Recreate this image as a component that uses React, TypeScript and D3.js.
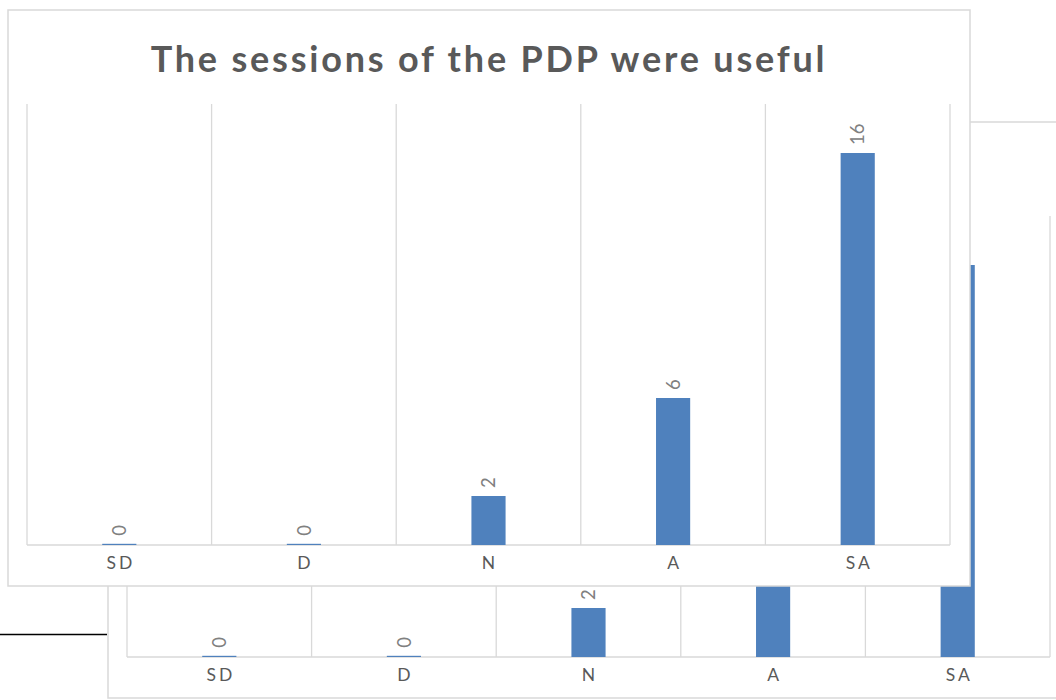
import React from "react";
import * as d3 from "d3";

const categories = ["SD", "D", "N", "A", "SA"];
const values = [0, 0, 2, 6, 16];
const title = "The sessions of the PDP were useful";
const yMax = 18;

const W = 962;
const H = 576;
const BAR = "#4f81bd";
const GRID = "#d9d9d9";
const FONT = "Lato, 'Open Sans', sans-serif";

function Chart({ dx, dy }: { dx: number; dy: number }) {
  const plotL = 19, plotR = 942, plotT = 94, plotB = 535;
  const x = d3.scaleBand<string>().domain(categories).range([plotL, plotR]).padding(0);
  const y = d3.scaleLinear().domain([0, yMax]).range([plotB, plotT]);
  const bw = x.bandwidth();
  const barW = bw * 0.185;
  const bounds = d3.range(categories.length + 1).map((i) => plotL + i * bw);
  return (
    <g transform={`translate(${dx},${dy})`}>
      <rect x={0} y={0} width={W} height={H} fill="#fff" stroke={GRID} strokeWidth={1.5} />
      <text
        x={W / 2}
        y={62}
        textAnchor="middle"
        fontFamily={FONT}
        fontWeight={700}
        fontSize={36}
        letterSpacing={2.8}
        fill="#595959"
      >
        {title}
      </text>
      {bounds.map((bx, i) => (
        <line key={i} x1={bx} x2={bx} y1={plotT} y2={plotB} stroke={GRID} strokeWidth={1.3} />
      ))}
      <line x1={plotL} x2={plotR} y1={plotB} y2={plotB} stroke={GRID} strokeWidth={1.3} />
      {categories.map((c, i) => {
        const cx = (x(c) as number) + bw / 2;
        const top = values[i] > 0 ? y(values[i]) : plotB - 1.2;
        return (
          <g key={c}>
            <rect x={cx - barW / 2} y={top} width={barW} height={plotB - top} fill={BAR} />
            <g transform={`translate(${cx},${top - 8}) rotate(-90)`}>
              <text x={0} y={0} dy="0.36em" fontFamily={FONT} fontSize={18.5} fill="#808080">
                {values[i]}
              </text>
            </g>
            <text
              x={cx + 1.5}
              y={plotB + 24}
              textAnchor="middle"
              fontFamily={FONT}
              fontSize={17.5}
              letterSpacing={3}
              fill="#595959"
            >
              {c}
            </text>
          </g>
        );
      })}
    </g>
  );
}

export default function App() {
  return (
    <svg
      width={1056}
      height={700}
      style={{ position: "absolute", left: 0, top: 0, background: "#fff" }}
    >
      <rect x={0} y={0} width={1056} height={700} fill="#fff" />
      <line x1={0} x2={107} y1={634.5} y2={634.5} stroke="#000" strokeWidth={1.3} />
      <Chart dx={108} dy={122} />
      <Chart dx={8} dy={10} />
    </svg>
  );
}
